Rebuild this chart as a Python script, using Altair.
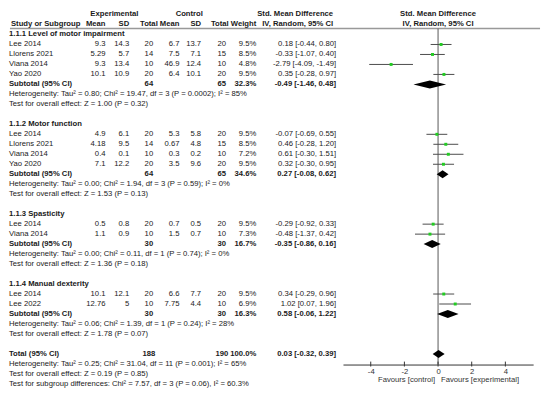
import altair as alt
import pandas as pd

FONT = "Liberation Sans"
FS = 7.8
TXT = "#1a1a1a"

# ---------------- data ----------------
group_titles = ["1.1.1 Level of motor impairment", "1.1.2 Motor function",
                "1.1.3 Spasticity", "1.1.4 Manual dexterity"]
study_names = [["Lee 2014", "Llorens 2021", "Viana 2014", "Yao 2020"],
               ["Lee 2014", "Llorens 2021", "Viana 2014", "Yao 2020"],
               ["Lee 2014", "Viana 2014"],
               ["Lee 2014", "Lee 2022"]]
exp_mean = [["9.3", "5.29", "9.3", "10.1"], ["4.9", "4.18", "0.4", "7.1"],
            ["0.5", "1.1"], ["10.1", "12.76"]]
exp_sd = [["14.3", "5.7", "13.4", "10.9"], ["6.1", "9.5", "0.1", "12.2"],
          ["0.8", "0.9"], ["12.1", "5"]]
exp_n = [["20", "14", "10", "20"], ["20", "14", "10", "20"], ["20", "10"], ["20", "10"]]
ctl_mean = [["6.7", "7.5", "46.9", "6.4"], ["5.3", "0.67", "0.3", "3.5"],
            ["0.7", "1.5"], ["6.6", "7.75"]]
ctl_sd = [["13.7", "7.1", "12.4", "10.1"], ["5.8", "4.8", "0.2", "9.6"],
          ["0.5", "0.7"], ["7.7", "4.4"]]
ctl_n = [["20", "15", "10", "20"], ["20", "15", "10", "20"], ["20", "10"], ["20", "10"]]
weights = [["9.5%", "8.5%", "4.8%", "9.5%"], ["9.5%", "8.5%", "7.2%", "9.5%"],
           ["9.5%", "7.3%"], ["9.5%", "6.9%"]]
smd = [[0.18, -0.33, -2.79, 0.35], [-0.07, 0.46, 0.61, 0.32], [-0.29, -0.48], [0.34, 1.02]]
ci_lo = [[-0.44, -1.07, -4.09, -0.28], [-0.69, -0.28, -0.30, -0.30], [-0.92, -1.37], [-0.29, 0.07]]
ci_hi = [[0.80, 0.40, -1.49, 0.97], [0.55, 1.20, 1.51, 0.95], [0.33, 0.42], [0.96, 1.96]]

sub_exp_n = ["64", "64", "30", "30"]
sub_ctl_n = ["65", "65", "30", "30"]
sub_weight = ["32.3%", "34.6%", "16.7%", "16.3%"]
sub_smd = [-0.49, 0.27, -0.35, 0.58]
sub_lo = [-1.46, -0.08, -0.86, -0.06]
sub_hi = [0.48, 0.62, 0.16, 1.22]
heterogeneity = [
    "Heterogeneity: Tau\u00b2 = 0.80; Chi\u00b2 = 19.47, df = 3 (P = 0.0002); I\u00b2 = 85%",
    "Heterogeneity: Tau\u00b2 = 0.00; Chi\u00b2 = 1.94, df = 3 (P = 0.59); I\u00b2 = 0%",
    "Heterogeneity: Tau\u00b2 = 0.00; Chi\u00b2 = 0.11, df = 1 (P = 0.74); I\u00b2 = 0%",
    "Heterogeneity: Tau\u00b2 = 0.06; Chi\u00b2 = 1.39, df = 1 (P = 0.24); I\u00b2 = 28%",
]
overall_effect = ["Test for overall effect: Z = 1.00 (P = 0.32)",
                  "Test for overall effect: Z = 1.53 (P = 0.13)",
                  "Test for overall effect: Z = 1.36 (P = 0.18)",
                  "Test for overall effect: Z = 1.78 (P = 0.07)"]

total_exp_n = "188"
total_ctl_n = "190"
total_weight = "100.0%"
total_smd, total_lo, total_hi = 0.03, -0.32, 0.39
total_notes = ["Heterogeneity: Tau\u00b2 = 0.25; Chi\u00b2 = 31.04, df = 11 (P = 0.001); I\u00b2 = 65%",
               "Test for overall effect: Z = 0.19 (P = 0.85)",
               "Test for subgroup differences: Chi\u00b2 = 7.57, df = 3 (P = 0.06), I\u00b2 = 60.3%"]
axis_ticks = [-4, -2, 0, 2, 4]


def ci_text(e, l, h):
    return f"{e:.2f} [{l:.2f}, {h:.2f}]"


# ---------------- tables built from the arrays ----------------
table, studies, diamonds = [], [], []


def add(row, col, text, bold):
    table.append(dict(row=row, col=col, text=text, bold=bold))


def add_diamond(did, row, e, l, h):
    diamonds.append(dict(id=did, x=l, y1=row, y2=row))
    diamonds.append(dict(id=did, x=e, y1=row - 0.4, y2=row + 0.4))
    diamonds.append(dict(id=did, x=h, y1=row, y2=row))


r = 0
for g in range(len(group_titles)):
    add(r, "label", group_titles[g], True)
    r += 1
    for i, name in enumerate(study_names[g]):
        vals = {"label": name, "em": exp_mean[g][i], "esd": exp_sd[g][i], "en": exp_n[g][i],
                "cm": ctl_mean[g][i], "csd": ctl_sd[g][i], "cn": ctl_n[g][i],
                "w": weights[g][i], "ci": ci_text(smd[g][i], ci_lo[g][i], ci_hi[g][i])}
        for c, t in vals.items():
            add(r, c, t, False)
        studies.append(dict(row=r, smd=smd[g][i], lo=ci_lo[g][i], hi=ci_hi[g][i]))
        r += 1
    vals = {"label": "Subtotal (95% CI)", "en": sub_exp_n[g], "cn": sub_ctl_n[g],
            "w": sub_weight[g], "ci": ci_text(sub_smd[g], sub_lo[g], sub_hi[g])}
    for c, t in vals.items():
        add(r, c, t, True)
    add_diamond(f"s{g}", r, sub_smd[g], sub_lo[g], sub_hi[g])
    r += 1
    add(r, "label", heterogeneity[g], False)
    r += 1
    add(r, "label", overall_effect[g], False)
    r += 2

vals = {"label": "Total (95% CI)", "en": total_exp_n, "cn": total_ctl_n,
        "w": total_weight, "ci": ci_text(total_smd, total_lo, total_hi)}
for c, t in vals.items():
    add(r, c, t, True)
add_diamond("total", r, total_smd, total_lo, total_hi)
r += 1
for note in total_notes:
    add(r, "label", note, False)
    r += 1

table = pd.DataFrame(table)
studies = pd.DataFrame(studies)
diamonds = pd.DataFrame(diamonds)

# ---------------- layout ----------------
xscale = alt.Scale(domain=[-5.65, 5.65], range=[340, 533], nice=False, zero=False)
yscale = alt.Scale(domain=[0, 35], range=[24, 378.6], nice=False, zero=False)
AXIS = alt.Axis(values=axis_ticks, orient="bottom", offset=-27, ticks=False, tickSize=0,
                labelPadding=3, labelFont=FONT, labelFontSize=FS, labelColor="#333",
                labelExpr="datum.value + ''", domainColor="#333", domainWidth=1,
                grid=False, title=None, labelFlush=False)
Y = alt.Y("row:Q", scale=yscale, axis=None)

columns = {"label": (1, "left"), "em": (99, "right"), "esd": (123, "right"),
           "en": (143, "center"), "cm": (174, "right"), "csd": (196, "right"),
           "cn": (217, "center"), "w": (252, "right"), "ci": (333, "right")}

layers = []

# separator line and zero line
layers.append(alt.Chart(pd.DataFrame({"a": [0]})).mark_rule(color="#999", strokeWidth=1.6)
              .encode(x=alt.value(2), x2=alt.value(540), y=alt.value(18)))
layers.append(alt.Chart(pd.DataFrame({"z": [0]})).mark_rule(color="#555", strokeWidth=1)
              .encode(x=alt.X("z:Q", scale=xscale, axis=AXIS), y=alt.value(18), y2=alt.value(359)))

# axis tick marks crossing the axis line
layers.append(alt.Chart(pd.DataFrame({"t": axis_ticks})).mark_rule(color="#333", strokeWidth=1)
              .encode(x=alt.X("t:Q", scale=xscale, axis=AXIS), y=alt.value(356), y2=alt.value(361)))

# header texts
headers = [
    ("Experimental", 108, 3.5, "center"), ("Control", 184, 3.5, "center"),
    ("Std. Mean Difference", 330, 3.5, "right"), ("Std. Mean Difference", 436.5, 3.5, "center"),
    ("Study or Subgroup", 3, 13, "left"), ("Mean", 99, 13, "right"), ("SD", 123, 13, "right"),
    ("Total", 143, 13, "center"), ("Mean", 174, 13, "right"), ("SD", 196, 13, "right"),
    ("Total", 215, 13, "center"), ("Weight", 252, 13, "right"),
    ("IV, Random, 95% CI", 330, 13, "right"), ("IV, Random, 95% CI", 436.5, 13, "center"),
]
for txt, hx, hy, al in headers:
    layers.append(alt.Chart(pd.DataFrame({"t": [txt]})).mark_text(
        align=al, baseline="middle", font=FONT, fontSize=FS, fontWeight="bold", color=TXT)
        .encode(x=alt.value(hx), y=alt.value(hy), text="t:N"))

# table texts
for col, (cx, al) in columns.items():
    for b in (False, True):
        sub = table[(table["col"] == col) & (table["bold"] == b)]
        if len(sub) == 0:
            continue
        layers.append(alt.Chart(sub).mark_text(
            align=al, baseline="middle", font=FONT, fontSize=FS,
            fontWeight="bold" if b else "normal", color=TXT)
            .encode(x=alt.value(cx), y=Y, text="text:N"))

# study CIs and points
layers.append(alt.Chart(studies).mark_rule(color="#4a4a4a", strokeWidth=1)
              .encode(x=alt.X("lo:Q", scale=xscale, axis=AXIS), x2="hi:Q", y=Y))
layers.append(alt.Chart(studies).mark_square(color="#22cc22", size=9, opacity=1)
              .encode(x=alt.X("smd:Q", scale=xscale, axis=AXIS), y=Y))

# diamonds
layers.append(alt.Chart(diamonds).mark_area(color="black", orient="vertical")
              .encode(x=alt.X("x:Q", scale=xscale, axis=AXIS),
                      y=alt.Y("y1:Q", scale=yscale, axis=None), y2="y2:Q", detail="id:N"))

# favours labels
fav = pd.DataFrame({"z": [0]})
layers.append(alt.Chart(fav).mark_text(text="Favours [control]", align="right", baseline="middle",
                                       dx=-3, font=FONT, fontSize=FS, color="#333")
              .encode(x=alt.X("z:Q", scale=xscale, axis=AXIS), y=alt.value(375)))
layers.append(alt.Chart(fav).mark_text(text="Favours [experimental]", align="left", baseline="middle",
                                       dx=3, font=FONT, fontSize=FS, color="#333")
              .encode(x=alt.X("z:Q", scale=xscale, axis=AXIS), y=alt.value(375)))

chart = alt.layer(*layers).properties(
    width=542, height=386, padding=0,
    autosize=alt.AutoSizeParams(type="none"),
).configure_view(strokeWidth=0)

chart.save("out.html", embed_options={"renderer": "svg", "actions": False})
